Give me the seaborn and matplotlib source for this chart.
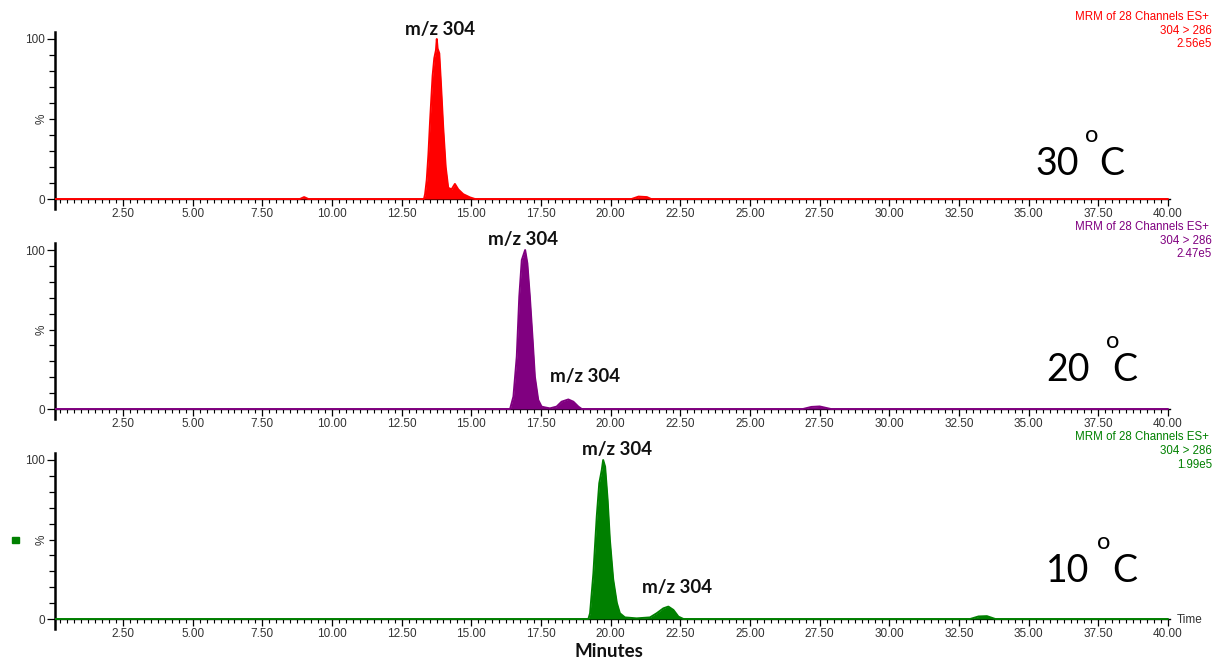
import matplotlib
matplotlib.use("Agg")
import numpy as np
import pandas as pd
import matplotlib.pyplot as plt
from matplotlib.patches import Rectangle
from matplotlib.ticker import MultipleLocator, FuncFormatter
import seaborn as sns

# ---------------------------------------------------------------- data
# Retention time (min) and relative intensity (%) of the 304 > 286 trace
time_30 = [0.06, 8.85, 9.00, 9.15, 13.30, 13.34, 13.40, 13.46, 13.52, 13.61,
           13.67, 13.73, 13.76, 13.79, 13.85, 13.91, 13.99, 14.08, 14.17,
           14.29, 14.41, 14.53, 14.71, 14.95, 15.13, 20.75, 21.00, 21.30,
           21.45, 40.00]
int_30 = [0, 0, 1.2, 0, 0, 3, 12, 28, 49, 77,
          88, 93, 100, 94, 91, 72, 45, 20, 7,
          6, 9.4, 6, 3, 1, 0, 0, 1.5, 1.2,
          0, 0]

time_20 = [0.06, 16.39, 16.51, 16.63, 16.72, 16.81, 16.93, 17.01, 17.10,
           17.20, 17.28, 17.40, 17.52, 17.64, 17.82, 18.06, 18.24, 18.48,
           18.66, 18.84, 18.96, 26.90, 27.20, 27.50, 27.90, 40.00]
int_20 = [0, 0, 7.8, 33, 70.6, 93.7, 100, 91.6, 70.6,
          43.4, 20.3, 5.7, 1.5, 1.0, 0.4, 1.5, 4.6, 6,
          4.6, 1.5, 0, 0, 1.3, 1.6, 0, 0]

time_10 = [0.06, 19.20, 19.26, 19.38, 19.50, 19.59, 19.68, 19.73, 19.80,
           19.89, 19.97, 20.09, 20.22, 20.33, 20.51, 20.93, 21.41, 21.65,
           21.89, 22.07, 22.25, 22.43, 22.61, 32.90, 33.20, 33.50, 33.80,
           40.00]
int_10 = [0, 0, 3.6, 28.8, 64.4, 85.4, 93.7, 100, 95.8,
          75, 50, 25, 10.2, 3.6, 1, 0.4, 1, 3.6,
          6.7, 7.8, 5.7, 1.5, 0, 0, 1.6, 1.8, 0,
          0]

temperatures = ["30", "20", "10"]
scale_values = ["2.56e5", "2.47e5", "1.99e5"]
channel_title = "MRM of 28 Channels ES+"
transition = "304 > 286"
peak_name = "m/z 304"
x_label = "Minutes"
time_tag = "Time"

runs = [(time_30, int_30), (time_20, int_20), (time_10, int_10)]
frames = []
for temp, (t, y) in zip(temperatures, runs):
    frames.append(pd.DataFrame({"time": t, "intensity": y, "temp": temp}))
data = pd.concat(frames, ignore_index=True)

# ---------------------------------------------------------------- layout
W, H = 1215, 662
colors = ["#ff0000", "#800080", "#008000"]
zero_px = [199, 409, 619]          # pixel row of the 0 % line per panel
pct_px = [1.6, 1.59, 1.59]         # pixels per %
YMIN, YMAX = -6, 104.5
X0_PX, X1_PX = 55, 1170
XMIN, XMAX = 0.06, 40.07

# peak label anchors (time, % at text baseline)
label_anchors = [
    [(13.89, 102.5)],
    [(16.87, 103.0), (19.07, 17.2)],
    [(20.23, 103.0), (22.37, 16.5)],
]
# temperature text pieces: (number left, number baseline, o left, o baseline, C left)
temp_pos = [
    (1035, 175, 1085, 142, 1099),
    (1046, 381, 1106, 348, 1112),
    (1046, 582, 1097, 549, 1112),
]
corner_rows = [(17, 31, 44), (227, 241, 254), (437, 451, 465)]

sns.set_theme(style="ticks")
plt.rcParams["font.family"] = ["Liberation Sans", "DejaVu Sans"]
label_font = ["Lato", "DejaVu Sans"]


def fy(py):
    return 1 - py / H


fig = plt.figure(figsize=(W / 100, H / 100), dpi=100)

for i, temp in enumerate(temperatures):
    top_px = zero_px[i] - YMAX * pct_px[i]
    bot_px = zero_px[i] - YMIN * pct_px[i]
    ax = fig.add_axes([X0_PX / W, fy(bot_px), (X1_PX - X0_PX) / W,
                       (bot_px - top_px) / H])
    sub = data[data["temp"] == temp]
    sns.lineplot(data=sub, x="time", y="intensity", color=colors[i],
                 lw=1.4, estimator=None, sort=False, ax=ax, zorder=3)
    ax.fill_between(sub["time"], sub["intensity"], color=colors[i], lw=0,
                    zorder=3)

    ax.set_xlim(XMIN, XMAX)
    ax.set_ylim(YMIN, YMAX)
    ax.set_xlabel("")
    ax.set_ylabel("")
    for s in ("top", "right"):
        ax.spines[s].set_visible(False)
    ax.spines["bottom"].set_position(("data", 0))
    ax.spines["bottom"].set_linewidth(1.0)
    ax.spines["bottom"].set_color("black")
    ax.spines["left"].set_linewidth(1.8)
    ax.spines["left"].set_color("black")

    ax.xaxis.set_major_locator(MultipleLocator(2.5))
    ax.xaxis.set_minor_locator(MultipleLocator(0.25))
    ax.xaxis.set_major_formatter(
        FuncFormatter(lambda v, p: "" if v < 1 else f"{v:.2f}"))
    ax.tick_params(axis="x", which="major", length=5, width=0.9,
                   color="black", labelsize=8.5, labelcolor="#333333", pad=1.5)
    ax.tick_params(axis="x", which="minor", length=3, width=0.8,
                   color="black")

    ax.set_yticks([0, 100])
    ax.set_yticklabels(["0", "100"])
    ax.yaxis.set_minor_locator(MultipleLocator(10))
    ax.tick_params(axis="y", which="major", length=6, width=0.9,
                   color="black", labelsize=8.5, labelcolor="#333333", pad=1)
    ax.tick_params(axis="y", which="minor", length=4, width=0.9,
                   color="black")
    ax.annotate("%", xy=(0, 50), xycoords=("axes fraction", "data"),
                xytext=(-13, 0), textcoords="offset pixels", rotation=90,
                ha="center", va="center", fontsize=8.5, color="#333333")

    for (tx, ty) in label_anchors[i]:
        ax.text(tx, ty, peak_name, ha="center", va="baseline",
                fontsize=13.5, fontweight="bold", family=label_font,
                color="#111111", clip_on=False)

    nx, nb, ox, ob, cx = temp_pos[i]
    fig.text(nx / W, fy(nb), temperatures[i], ha="left", va="baseline",
             fontsize=27, family=label_font, color="black")
    fig.text(ox / W, fy(ob), "o", ha="left", va="baseline",
             fontsize=17, family=label_font, color="black")
    fig.text(cx / W, fy(nb), "C", ha="left", va="baseline",
             fontsize=27, family=label_font, color="black")

    r1, r2, r3 = corner_rows[i]
    fig.text(1209 / W, fy(r1), channel_title, ha="right", va="center",
             fontsize=8.3, color=colors[i])
    fig.text(1212 / W, fy(r2), transition, ha="right", va="center",
             fontsize=8.3, color=colors[i])
    fig.text(1212 / W, fy(r3), scale_values[i], ha="right", va="center",
             fontsize=8.3, color=colors[i])

fig.text(1177 / W, fy(620), time_tag, ha="left", va="center",
         fontsize=8.5, color="#333333")
fig.text(609 / W, fy(657), x_label, ha="center", va="baseline",
         fontsize=13.5, fontweight="bold", family=label_font, color="#111111")
fig.patches.append(Rectangle((11.5 / W, fy(543)), 7 / W, 6.5 / H,
                             transform=fig.transFigure, color="#008000",
                             figure=fig))

fig.savefig("out.png", dpi=100)
